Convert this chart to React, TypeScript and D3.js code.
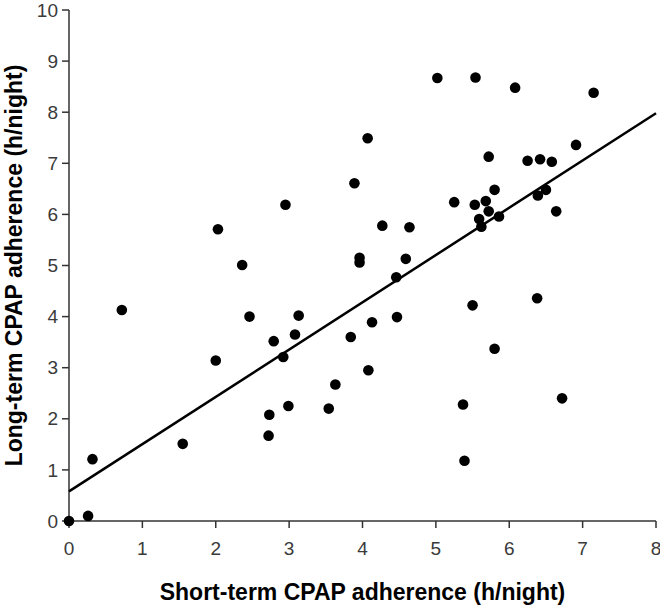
import React from "react";
import * as d3 from "d3";

const shortTerm: number[] = [
  0.0, 0.26, 0.32, 0.72, 1.55, 2.0, 2.03, 2.36, 2.95, 4.07, 3.89, 4.27, 4.64, 3.96, 3.96, 4.59, 4.46, 5.02,
  2.46, 3.13, 3.08, 2.79, 2.92, 3.84, 4.13, 4.47, 4.08, 3.63, 3.54, 2.99, 2.73, 2.72,
  5.54, 6.08, 7.15, 6.91, 5.72, 6.25, 6.42, 6.58, 5.8, 5.25, 5.53, 5.68, 5.72, 5.86, 5.59, 5.62, 6.5, 6.39, 6.64,
  6.38, 5.5, 5.8, 5.37, 6.72, 5.39,
];
const longTerm: number[] = [
  0.0, 0.1, 1.21, 4.13, 1.51, 3.14, 5.71, 5.01, 6.19, 7.49, 6.61, 5.78, 5.75, 5.15, 5.06, 5.13, 4.77, 8.67,
  4.0, 4.02, 3.65, 3.52, 3.21, 3.6, 3.89, 3.99, 2.95, 2.67, 2.2, 2.25, 2.08, 1.67,
  8.68, 8.48, 8.38, 7.36, 7.13, 7.05, 7.08, 7.03, 6.48, 6.24, 6.19, 6.26, 6.06, 5.96, 5.91, 5.76, 6.48, 6.37, 6.06,
  4.36, 4.22, 3.37, 2.28, 2.4, 1.18,
];
const fitX: number[] = [0, 8];
const fitY: number[] = [0.58, 7.98];
const xTicks: number[] = [0, 1, 2, 3, 4, 5, 6, 7, 8];
const yTicks: number[] = [0, 1, 2, 3, 4, 5, 6, 7, 8, 9, 10];
const xLabel = "Short-term CPAP adherence (h/night)";
const yLabel = "Long-term CPAP adherence (h/night)";

export default function App() {
  const W = 660;
  const H = 607;
  const x = d3.scaleLinear().domain([0, 8]).range([69, 656]);
  const y = d3.scaleLinear().domain([0, 10]).range([521, 10]);
  const line = d3
    .line<number>()
    .x((d) => x(fitX[d]))
    .y((d) => y(fitY[d]));
  const axisColor = "#333";
  const tickFont = "'Liberation Sans', Arial, sans-serif";
  return (
    <svg
      width={W}
      height={H}
      style={{ position: "absolute", left: 0, top: 0, background: "#fff" }}
    >
      {/* axes */}
      <line x1={x(0)} x2={x(8)} y1={y(0)} y2={y(0)} stroke={axisColor} strokeWidth={1.5} />
      <line x1={x(0)} x2={x(0)} y1={y(0)} y2={y(10)} stroke={axisColor} strokeWidth={1.5} />
      {xTicks.map((t) => (
        <g key={"x" + t}>
          <line x1={x(t)} x2={x(t)} y1={y(0)} y2={y(0) + 7} stroke={axisColor} strokeWidth={1.5} />
          <text
            x={x(t)}
            y={555}
            textAnchor="middle"
            fontFamily={tickFont}
            fontSize={19}
            fill="#3a3a3a"
          >
            {t}
          </text>
        </g>
      ))}
      {yTicks.map((t) => (
        <g key={"y" + t}>
          <line x1={x(0) - 7} x2={x(0)} y1={y(t)} y2={y(t)} stroke={axisColor} strokeWidth={1.5} />
          <text
            x={58}
            y={y(t)}
            dy="0.35em"
            textAnchor="end"
            fontFamily={tickFont}
            fontSize={19}
            fill="#3a3a3a"
          >
            {t}
          </text>
        </g>
      ))}
      {/* fit line */}
      <path d={line([0, 1]) || ""} stroke="#000" strokeWidth={2.5} fill="none" />
      {/* points */}
      {shortTerm.map((sx, i) => (
        <circle key={i} cx={x(sx)} cy={y(longTerm[i])} r={5.3} fill="#000" />
      ))}
      {/* labels */}
      <text
        x={(x(0) + x(8)) / 2}
        y={600}
        textAnchor="middle"
        fontFamily={tickFont}
        fontWeight="bold"
        fontSize={23}
        fill="#000"
      >
        {xLabel}
      </text>
      <text
        transform={`translate(22,${(y(0) + y(10)) / 2}) rotate(-90)`}
        textAnchor="middle"
        fontFamily={tickFont}
        fontWeight="bold"
        fontSize={23}
        fill="#000"
      >
        {yLabel}
      </text>
    </svg>
  );
}
